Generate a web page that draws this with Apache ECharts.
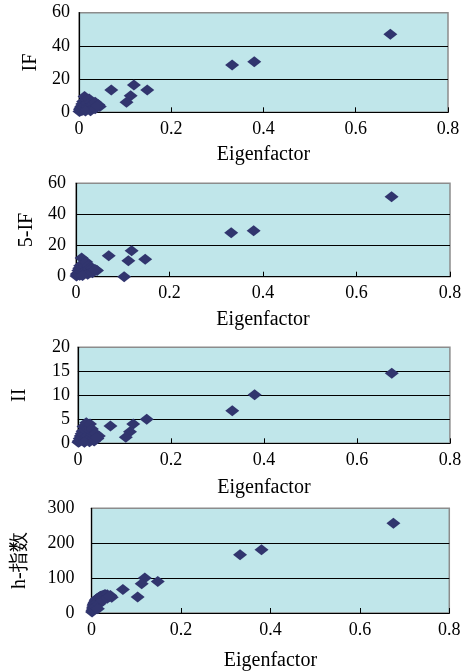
<!DOCTYPE html>
<html>
<head>
<meta charset="utf-8">
<script src="https://cdn.jsdelivr.net/npm/echarts@6/dist/echarts.min.js"></script>
<style>
html,body{margin:0;padding:0;background:#fff;}
#c{width:470px;height:672px;}
</style>
</head>
<body>
<div id="c"></div>
<script>
// Eigenfactor (shared x values for all four panels)
const eigenfactor = [0.675,0.332,0.380,0.148,0.070,0.119,0.112,0.103,
  0.001,0.002,0.003,0.004,0.005,0.006,0.007,0.008,0.009,0.010,
  0.012,0.013,0.015,0.016,0.018,0.020,0.022,0.024,0.026,0.028,
  0.030,0.032,0.035,0.038,0.042,0.045,0.025,0.014,0.035,0.040];
const impactFactor = [47.0,28.5,30.5,13.4,13.4,16.4,10.0,6.0,
  0.5,1.5,2.5,1.0,3.5,2.0,5.0,1.2,6.5,3.0,
  9.5,4.5,7.5,2.0,5.5,3.5,8.0,2.5,6.0,4.5,
  2.5,5.0,6.0,3.5,4.5,3.5,1.0,0.8,2.2,4.0];
const fiveYearIF = [51.4,28.3,29.5,11.2,13.5,16.7,10.3,0.0,
  0.5,1.5,2.0,1.2,4.0,2.5,5.5,1.0,7.0,3.5,
  12.0,5.0,8.5,2.5,6.5,4.0,9.5,3.0,7.0,5.0,
  3.0,6.0,5.5,4.0,4.5,4.0,1.5,0.8,2.5,4.5];
const immediacyIndex = [14.6,6.8,10.1,5.0,3.6,4.0,2.4,1.25,
  0.2,0.5,0.3,1.0,0.6,1.5,0.8,2.0,1.2,2.5,
  3.5,1.8,2.8,0.5,4.3,1.5,3.0,0.8,4.0,1.2,
  3.0,1.8,0.6,2.0,1.0,1.5,0.3,0.2,0.5,1.2];
const hIndex = [257,167,181,90,67,100,84,46,
  3,8,14,20,24,28,31,18,35,38,
  41,30,44,25,46,48,49,38,51,44,
  53,50,52,47,50,45,35,12,42,48];

const yNames = ['IF','5-IF','II','h-指数'];
const yMax = [60,60,20,300];
const yInterval = [20,20,5,100];
const xTicks = [0,0.2,0.4,0.6,0.8];
const panels = [impactFactor,fiveYearIF,immediacyIndex,hIndex];

const grids = [
  {left:79, top:12.7, width:369, height:99.6},
  {left:76, top:183.3, width:374, height:93.4},
  {left:77.9, top:347.3, width:372, height:96},
  {left:91.6, top:508.3, width:357.7, height:105}
];
const yNameGap = [37,38,48,62];
const yLabelMargin = [9,10,8,17];
const xNameGap = [32,33,34,38];

const serif = 'Liberation Serif';
const option = {
  animation:false,
  backgroundColor:'#fff',
  grid: grids.map(g=>Object.assign({show:true, backgroundColor:'#C0E6EA', borderColor:'#8C8C8C', borderWidth:1.5}, g)),
  xAxis: grids.map((g,i)=>({
    type:'value', gridIndex:i, min:xTicks[0], max:xTicks[xTicks.length-1], interval:0.2,
    name:'Eigenfactor', nameLocation:'middle', nameGap:xNameGap[i],
    nameTextStyle:{fontFamily:serif, fontSize:20, color:'#000'},
    axisLine:{show:true, onZero:false, lineStyle:{color:'#000', width:1.2}},
    axisTick:{show:true, inside:true, length:5, lineStyle:{color:'#000'}},
    axisLabel:{fontFamily:serif, fontSize:18, color:'#000', margin:8},
    splitLine:{show:false}
  })),
  yAxis: grids.map((g,i)=>({
    type:'value', gridIndex:i, min:0, max:yMax[i], interval:yInterval[i],
    name:yNames[i], nameLocation:'middle', nameGap:yNameGap[i],
    nameTextStyle:{fontFamily:serif, fontSize:20, color:'#000'},
    axisLine:{show:true, onZero:false, lineStyle:{color:'#000', width:1.2}},
    axisTick:{show:false},
    axisLabel:{fontFamily:serif, fontSize:18, color:'#000', margin:yLabelMargin[i]},
    splitLine:{show:true, showMinLine:false, showMaxLine:false, lineStyle:{color:'#000', width:1}}
  })),
  series: panels.map((ys,i)=>({
    type:'scatter', xAxisIndex:i, yAxisIndex:i, clip:false,
    symbol:'diamond', symbolSize:[14,11],
    itemStyle:{color:'#31356E', opacity:1},
    data: eigenfactor.map((x,k)=>[x, ys[k]])
  }))
};
const chart = echarts.init(document.getElementById('c'), null, {renderer:'canvas'});
chart.setOption(option);
</script>
</body>
</html>
